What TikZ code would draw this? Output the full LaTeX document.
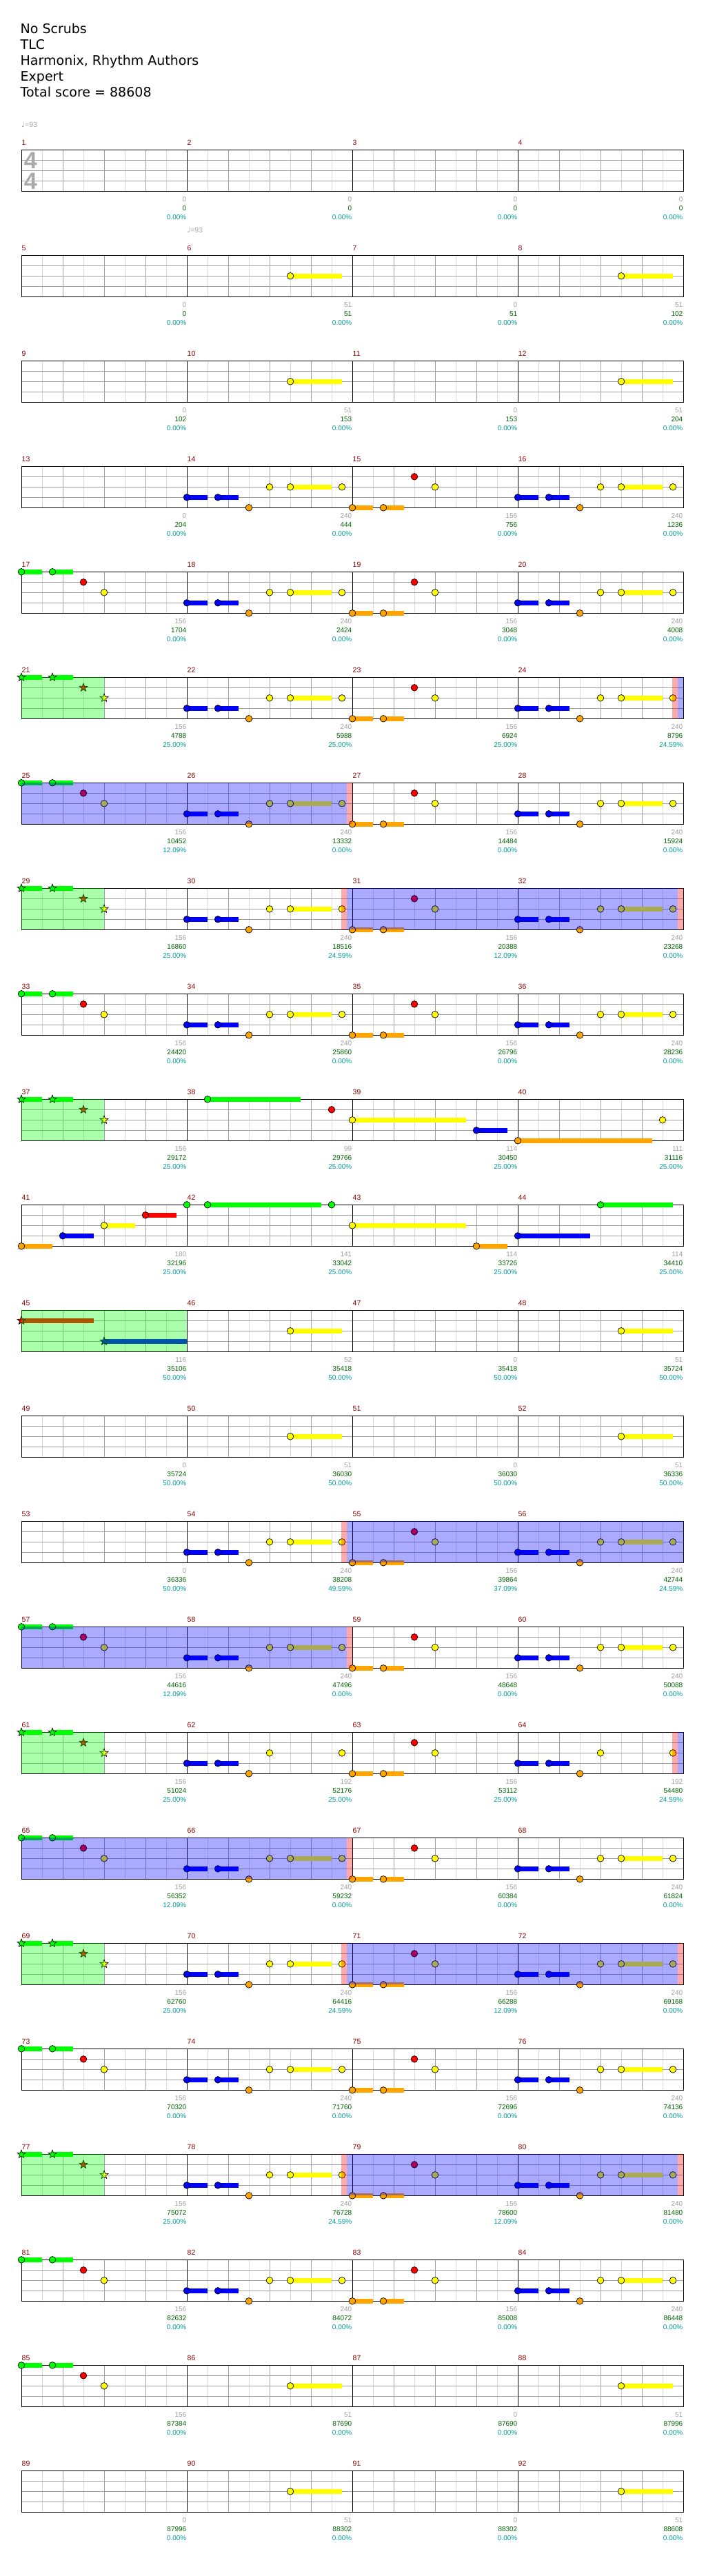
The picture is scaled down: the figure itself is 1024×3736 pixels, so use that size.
\documentclass[tikz,border=0pt]{standalone}
\usepackage{fontspec}
\setmainfont{Liberation Sans}
\newfontfamily\djv{DejaVu Sans}
\definecolor{nyellow}{RGB}{255,255,0}
\definecolor{ngreen}{RGB}{0,255,0}
\definecolor{nred}{RGB}{255,0,0}
\definecolor{nblue}{RGB}{0,0,255}
\definecolor{norange}{RGB}{255,165,0}
\definecolor{gridd}{RGB}{160,160,160}
\definecolor{gridl}{RGB}{218,218,218}
\definecolor{mnred}{RGB}{140,0,0}
\definecolor{labgray}{RGB}{160,160,160}
\definecolor{labgreen}{RGB}{0,100,0}
\definecolor{labteal}{RGB}{0,153,153}
\definecolor{tsgray}{RGB}{170,170,170}
\tikzset{
 notec/.style={draw=black,line width=0.7pt},
 gl/.style={draw=gridl,line width=1pt},
 gd/.style={draw=gridd,line width=1pt},
 barline/.style={draw=black,line width=1pt},
 lab/.style={inner sep=0pt,font=\fontsize{10}{12}\selectfont},
 mnum/.style={inner sep=0pt,font=\fontsize{10.5}{12}\selectfont,text=mnred,anchor=base west},
 ttl/.style={inner sep=0pt,font=\djv\fontsize{19}{23}\selectfont,anchor=base west},
}
\newcommand\NoteA[3]{\filldraw[notec,fill=#3] (#1,#2*15) circle[radius=4.8];}
\newcommand\SusA[4]{\fill[#4] (#1,#3*15-3.2) rectangle (#2,#3*15+3.2);}
\newcommand\StarA[3]{\filldraw[notec,fill=#3,shift={(#1,#2*15)}] (270:6.2) -- (306:2.6) -- (342:6.2) -- (18:2.6) -- (54:6.2) -- (90:2.6) -- (126:6.2) -- (162:2.6) -- (198:6.2) -- (234:2.6) -- cycle;}
\newcommand\PatX[1]{\begin{scope}[shift={(#1,0)}]\SusA{0}{30}{3}{nblue}\NoteA{0}{3}{nblue}\SusA{45}{75}{3}{nblue}\NoteA{45}{3}{nblue}\NoteA{90}{4}{norange}\NoteA{120}{2}{nyellow}\SusA{150}{210}{2}{nyellow}\NoteA{150}{2}{nyellow}\NoteA{225}{2}{nyellow}\end{scope}}
\newcommand\PatXp[1]{\begin{scope}[shift={(#1,0)}]\SusA{0}{30}{3}{nblue}\NoteA{0}{3}{nblue}\SusA{45}{75}{3}{nblue}\NoteA{45}{3}{nblue}\NoteA{90}{4}{norange}\NoteA{120}{2}{nyellow}\NoteA{225}{2}{nyellow}\end{scope}}
\newcommand\PatY[1]{\begin{scope}[shift={(#1,0)}]\SusA{0}{30}{4}{norange}\NoteA{0}{4}{norange}\SusA{45}{75}{4}{norange}\NoteA{45}{4}{norange}\NoteA{90}{1}{nred}\NoteA{120}{2}{nyellow}\end{scope}}
\newcommand\PatZ[1]{\begin{scope}[shift={(#1,0)}]\SusA{0}{30}{0}{ngreen}\NoteA{0}{0}{ngreen}\SusA{45}{75}{0}{ngreen}\NoteA{45}{0}{ngreen}\NoteA{90}{1}{nred}\NoteA{120}{2}{nyellow}\end{scope}}
\newcommand\PatZs[1]{\begin{scope}[shift={(#1,0)}]\SusA{0}{30}{0}{ngreen}\StarA{0}{0}{ngreen}\SusA{45}{75}{0}{ngreen}\StarA{45}{0}{ngreen}\StarA{90}{1}{nred}\StarA{120}{2}{nyellow}\end{scope}}
\newcommand\PatV[1]{\begin{scope}[shift={(#1,0)}]\SusA{150}{225}{2}{nyellow}\NoteA{150}{2}{nyellow}\end{scope}}
\newcommand\OvB[2]{\fill[nblue,fill opacity=0.333] (#1,0) rectangle (#2,60);}
\newcommand\OvR[2]{\fill[nred,fill opacity=0.333] (#1,0) rectangle (#2,60);}
\newcommand\OvG[2]{\fill[ngreen,fill opacity=0.333] (#1,0) rectangle (#2,60);}
\newcommand\GridA{%
 \foreach \k in {0,240,480,720}{%
   \foreach \o in {30,90,150,210}{\draw[gl] (\k+\o,0) -- (\k+\o,60);}%
   \foreach \o in {60,120,180}{\draw[gd] (\k+\o,0) -- (\k+\o,60);}}%
 \foreach \h in {15,30,45}{\draw[gd] (0,\h) -- (960,\h);}%
 \foreach \k in {240,480,720}{\draw[barline] (\k,0) -- (\k,60);}%
 \draw[barline] (0,0) rectangle (960,60);}
\newcommand\RowA[2]{\begin{scope}[shift={(31,#1)}]\GridA #2\end{scope}}
\begin{document}
\begin{tikzpicture}[x=1pt,y=-1pt]
\fill[white] (0,0) rectangle (1024,3736);
\useasboundingbox (0,0) rectangle (1024,3736);
% title
\node[ttl] (t1) at (29.5,49) {No Scrubs};
\node[ttl] (t2) at (29.5,72) {TLC};
\node[ttl] (t3) at (29.5,95) {Harmonix, Rhythm Authors};
\node[ttl] (t4) at (29.5,118) {Expert};
\node[ttl] (t5) at (29.5,141) {Total score = 88608};
% tempo
\node[inner sep=0pt,anchor=base west,text=tsgray,font=\fontsize{10.5}{12}\selectfont] (tp1) at (31,184) {{\djv ♩}=93};
\node[inner sep=0pt,anchor=base west,text=tsgray,font=\fontsize{10.5}{12}\selectfont] (tp2) at (271,337) {{\djv ♩}=93};
% rows
\RowA{217.3}{}
\RowA{370.3}{\PatV{240}\PatV{720}}
\RowA{523.3}{\PatV{240}\PatV{720}}
\RowA{676.3}{\PatX{240}\PatY{480}\PatX{720}}
\RowA{829.3}{\PatZ{0}\PatX{240}\PatY{480}\PatX{720}}
\RowA{982.3}{\PatZs{0}\PatX{240}\PatY{480}\PatX{720}\OvG{0}{120}\OvR{944}{952}\OvB{952}{960}}
\RowA{1135.3}{\PatZ{0}\PatX{240}\PatY{480}\PatX{720}\OvB{0}{472}\OvR{472}{480}}
\RowA{1288.3}{\PatZs{0}\PatX{240}\PatY{480}\PatX{720}\OvG{0}{120}\OvR{464}{472}\OvB{472}{952}\OvR{952}{960}}
\RowA{1441.3}{\PatZ{0}\PatX{240}\PatY{480}\PatX{720}}
\RowA{1594.3}{\PatZs{0}%
 \begin{scope}[shift={(240,0)}]\SusA{30}{165}{0}{ngreen}\NoteA{30}{0}{ngreen}\NoteA{210}{1}{nred}\end{scope}%
 \begin{scope}[shift={(480,0)}]\SusA{0}{165}{2}{nyellow}\NoteA{0}{2}{nyellow}\SusA{180}{225}{3}{nblue}\NoteA{180}{3}{nblue}\end{scope}%
 \begin{scope}[shift={(720,0)}]\SusA{0}{195}{4}{norange}\NoteA{0}{4}{norange}\NoteA{210}{2}{nyellow}\end{scope}%
 \OvG{0}{120}}
\RowA{1747.3}{%
 \SusA{0}{45}{4}{norange}\NoteA{0}{4}{norange}\SusA{60}{105}{3}{nblue}\NoteA{60}{3}{nblue}\SusA{120}{165}{2}{nyellow}\NoteA{120}{2}{nyellow}\SusA{180}{225}{1}{nred}\NoteA{180}{1}{nred}%
 \begin{scope}[shift={(240,0)}]\NoteA{0}{0}{ngreen}\SusA{30}{195}{0}{ngreen}\NoteA{30}{0}{ngreen}\NoteA{210}{0}{ngreen}\end{scope}%
 \begin{scope}[shift={(480,0)}]\SusA{0}{165}{2}{nyellow}\NoteA{0}{2}{nyellow}\SusA{180}{225}{4}{norange}\NoteA{180}{4}{norange}\end{scope}%
 \begin{scope}[shift={(720,0)}]\SusA{0}{105}{3}{nblue}\NoteA{0}{3}{nblue}\SusA{120}{225}{0}{ngreen}\NoteA{120}{0}{ngreen}\end{scope}}
\RowA{1900.3}{\SusA{0}{105}{1}{nred}\StarA{0}{1}{nred}\SusA{120}{240}{3}{nblue}\StarA{120}{3}{nblue}\PatV{240}\PatV{720}\OvG{0}{240}}
\RowA{2053.3}{\PatV{240}\PatV{720}}
\RowA{2206.3}{\PatX{240}\PatY{480}\PatX{720}\OvR{464}{472}\OvB{472}{960}}
\RowA{2359.3}{\PatZ{0}\PatX{240}\PatY{480}\PatX{720}\OvB{0}{472}\OvR{472}{480}}
\RowA{2512.3}{\PatZs{0}\PatXp{240}\PatY{480}\PatXp{720}\OvG{0}{120}\OvR{944}{952}\OvB{952}{960}}
\RowA{2665.3}{\PatZ{0}\PatX{240}\PatY{480}\PatX{720}\OvB{0}{472}\OvR{472}{480}}
\RowA{2818.3}{\PatZs{0}\PatX{240}\PatY{480}\PatX{720}\OvG{0}{120}\OvR{464}{472}\OvB{472}{952}\OvR{952}{960}}
\RowA{2971.3}{\PatZ{0}\PatX{240}\PatY{480}\PatX{720}}
\RowA{3124.3}{\PatZs{0}\PatX{240}\PatY{480}\PatX{720}\OvG{0}{120}\OvR{464}{472}\OvB{472}{952}\OvR{952}{960}}
\RowA{3277.3}{\PatZ{0}\PatX{240}\PatY{480}\PatX{720}}
\RowA{3430.3}{\PatZ{0}\PatV{240}\PatV{720}}
\RowA{3583.3}{\PatV{240}\PatV{720}}
% time signature
\node[inner sep=0pt,text=tsgray,font=\bfseries\fontsize{34}{34}\selectfont] (ts1) at (44.3,232.8) {4};
\node[inner sep=0pt,text=tsgray,font=\bfseries\fontsize{34}{34}\selectfont] (ts2) at (44.3,262.8) {4};
% measure numbers and labels
\foreach \m/\a/\b/\c in {
1/0/0/0.00, 2/0/0/0.00, 3/0/0/0.00, 4/0/0/0.00,
5/0/0/0.00, 6/51/51/0.00, 7/0/51/0.00, 8/51/102/0.00,
9/0/102/0.00, 10/51/153/0.00, 11/0/153/0.00, 12/51/204/0.00,
13/0/204/0.00, 14/240/444/0.00, 15/156/756/0.00, 16/240/1236/0.00,
17/156/1704/0.00, 18/240/2424/0.00, 19/156/3048/0.00, 20/240/4008/0.00,
21/156/4788/25.00, 22/240/5988/25.00, 23/156/6924/25.00, 24/240/8796/24.59,
25/156/10452/12.09, 26/240/13332/0.00, 27/156/14484/0.00, 28/240/15924/0.00,
29/156/16860/25.00, 30/240/18516/24.59, 31/156/20388/12.09, 32/240/23268/0.00,
33/156/24420/0.00, 34/240/25860/0.00, 35/156/26796/0.00, 36/240/28236/0.00,
37/156/29172/25.00, 38/99/29766/25.00, 39/114/30450/25.00, 40/111/31116/25.00,
41/180/32196/25.00, 42/141/33042/25.00, 43/114/33726/25.00, 44/114/34410/25.00,
45/116/35106/50.00, 46/52/35418/50.00, 47/0/35418/50.00, 48/51/35724/50.00,
49/0/35724/50.00, 50/51/36030/50.00, 51/0/36030/50.00, 52/51/36336/50.00,
53/0/36336/50.00, 54/240/38208/49.59, 55/156/39864/37.09, 56/240/42744/24.59,
57/156/44616/12.09, 58/240/47496/0.00, 59/156/48648/0.00, 60/240/50088/0.00,
61/156/51024/25.00, 62/192/52176/25.00, 63/156/53112/25.00, 64/192/54480/24.59,
65/156/56352/12.09, 66/240/59232/0.00, 67/156/60384/0.00, 68/240/61824/0.00,
69/156/62760/25.00, 70/240/64416/24.59, 71/156/66288/12.09, 72/240/69168/0.00,
73/156/70320/0.00, 74/240/71760/0.00, 75/156/72696/0.00, 76/240/74136/0.00,
77/156/75072/25.00, 78/240/76728/24.59, 79/156/78600/12.09, 80/240/81480/0.00,
81/156/82632/0.00, 82/240/84072/0.00, 83/156/85008/0.00, 84/240/86448/0.00,
85/156/87384/0.00, 86/51/87690/0.00, 87/0/87690/0.00, 88/51/87996/0.00,
89/0/87996/0.00, 90/51/88302/0.00, 91/0/88302/0.00, 92/51/88608/0.00}{
 \pgfmathtruncatemacro\rr{(\m-1)/4}
 \pgfmathtruncatemacro\jj{\m-1-4*\rr}
 \pgfmathsetmacro\yy{217.3+153*\rr}
 \pgfmathsetmacro\xx{31+240*\jj}
 \node[mnum] (mn\m) at (\xx+0.5,\yy-7.3) {\m};
 \node[lab,text=labgray,anchor=base east] (ga\m) at (\xx+239.5,\yy+75.3) {\a};
 \node[lab,text=labgreen,anchor=base east] (gb\m) at (\xx+239.5,\yy+88.3) {\b};
 \node[lab,text=labteal,anchor=base east] (gc\m) at (\xx+239.5,\yy+101.3) {\c\%};
}
\end{tikzpicture}
\end{document}
